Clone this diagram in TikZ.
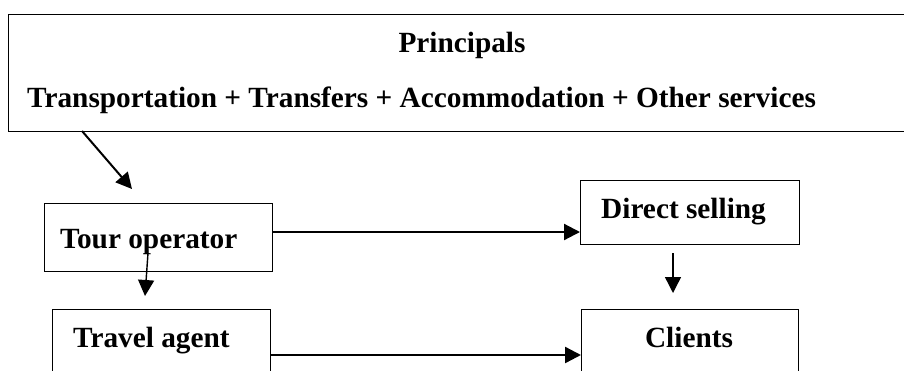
\documentclass[tikz,border=0pt]{standalone}
\usepackage{fontspec}
\setmainfont{Liberation Serif}
\usetikzlibrary{arrows.meta}
\begin{document}
\begin{tikzpicture}[x=1pt,y=-1pt,
  box/.style={draw, line width=1.3pt, rectangle, inner sep=0pt, anchor=north west},
  lbl/.style={inner sep=0pt, font=\fontsize{29.3}{34}\selectfont\bfseries},
  arr/.style={line width=#1, -{Triangle[length=16pt,width=16pt]}},
  arr/.default=2pt]
\useasboundingbox (0,0) rectangle (904,370);
\clip (0,0) rectangle (904,370);
\fill[white] (0,0) rectangle (904,370);
% boxes
\node[box, minimum width=912pt, minimum height=117pt] (prin) at (8,14) {};
\node[box, minimum width=228pt, minimum height=68pt] (tour) at (44,203) {};
\node[box, minimum width=218pt, minimum height=100pt] (travel) at (52,309) {};
\node[box, minimum width=219pt, minimum height=64pt] (direct) at (580,180) {};
\node[box, minimum width=217pt, minimum height=100pt] (clients) at (581,309) {};
% texts
\node[lbl, anchor=base] (tprin) at (462,52) {Principals};
\node[lbl, anchor=base west] (tserv) at (27,107.5) {Transportation + Transfers + Accommodation + Other services};
\node[lbl, anchor=base west] (ttour) at (60,248) {Tour operator};
\node[lbl, anchor=base west] (ttravel) at (73,347) {Travel agent};
\node[lbl, anchor=base west] (tdirect) at (601,218) {Direct selling};
\node[lbl, anchor=base] (tclients) at (689,347) {Clients};
% connector end points
\coordinate (d1) at (82,131);
\coordinate (d2) at (132,189);
\coordinate (h1) at (272,232);
\coordinate (h2) at (270,355);
\coordinate (v1) at (148,253);
\coordinate (v2) at (145,296);
\coordinate (w1) at (673,253);
\coordinate (w2) at (673,293);
% connectors
\draw[arr=2pt] (d1) -- (d2);
\draw[arr=2.2pt] (h1) -- (h1 -| direct.west);
\draw[arr=2.4pt] (h2) -- (h2 -| clients.west);
\draw[arr=1.4pt] (v1) -- (v2);
\draw[arr=1.4pt] (w1) -- (w2);
\end{tikzpicture}
\end{document}
